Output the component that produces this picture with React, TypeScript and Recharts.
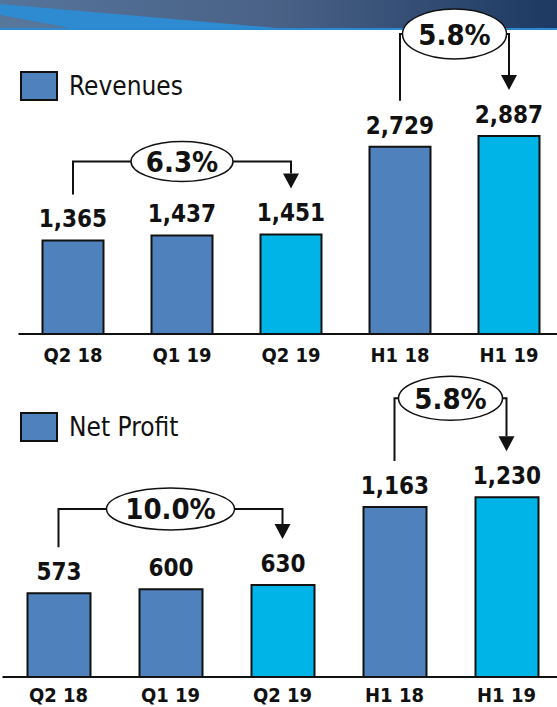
import React from 'react';
import { BarChart, Bar, XAxis, YAxis, Cell, LabelList, ReferenceLine } from 'recharts';

const categories = ['Q2 18', 'Q1 19', 'Q2 19', 'H1 18', 'H1 19'];
const revenues = [1365, 1437, 1451, 2729, 2887];
const netProfit = [573, 600, 630, 1163, 1230];
const highlighted = [false, false, true, false, true];

// growth brackets: from category index -> to category index, label in the ellipse
const revenueGrowth = [
  { from: 0, to: 2, label: '6.3%' },
  { from: 3, to: 4, label: '5.8%' },
];
const profitGrowth = [
  { from: 0, to: 2, label: '10.0%' },
  { from: 3, to: 4, label: '5.8%' },
];

// bracket styling (pixels): rise above arrow tip, ellipse radii
const revenueBracketStyle = [
  { rise: 27, rx: 51, ry: 20 },
  { rise: 56, rx: 52, ry: 25 },
];
const profitBracketStyle = [
  { rise: 30, rx: 64, ry: 21 },
  { rise: 53, rx: 52, ry: 22 },
];

const DARK = '#4f81bd';
const CYAN = '#00b4e8';
const INK = '#111';
const FONT = "'DejaVu Sans Condensed', 'DejaVu Sans', sans-serif";

const revenueData = categories.map((name, i) => ({ name, value: revenues[i], hi: highlighted[i] }));
const profitData = categories.map((name, i) => ({ name, value: netProfit[i], hi: highlighted[i] }));

const fmt = (v: any) => Number(v).toLocaleString('en-US');

const bracketShape = (label: string, st: { rise: number; rx: number; ry: number }) => (props: any) => {
  const { x1, y1, x2, y2 } = props;
  if (x1 == null || y1 == null) return <g />;
  const gap = 46;
  const legBottom = y1 - gap;
  const tip = y2 - gap;
  const top = tip - st.rise;
  const cx = (x1 + x2) / 2;
  const head = 15;
  return (
    <g>
      <polyline points={`${x1},${legBottom} ${x1},${top} ${cx - st.rx},${top}`} fill="none" stroke={INK} strokeWidth={2} />
      <polyline points={`${cx + st.rx},${top} ${x2},${top} ${x2},${tip - head}`} fill="none" stroke={INK} strokeWidth={2} />
      <polygon points={`${x2 - 8},${tip - head} ${x2 + 8},${tip - head} ${x2},${tip}`} fill={INK} />
      <ellipse cx={cx} cy={top} rx={st.rx} ry={st.ry} fill="#fff" stroke={INK} strokeWidth={1.5} />
      <text x={cx} y={top + 10.5} textAnchor="middle" fontFamily={FONT} fontWeight="bold" fontSize={29} fill={INK}>
        {label}
      </text>
    </g>
  );
};

const makeTick = (dy: number) => (props: any) => {
  const { x, y, payload } = props;
  return (
    <text x={x} y={y + dy} textAnchor="middle" fontFamily={FONT} fontWeight="bold" fontSize={20} fill={INK}>
      {payload.value}
    </text>
  );
};

function Panel({ data, growth, styles, width, height, margin, axisHeight, tickDy, domainMax, barSize }: any) {
  return (
    <BarChart width={width} height={height} data={data} margin={margin}>
      <XAxis
        dataKey="name"
        interval={0}
        tickLine={false}
        tickSize={0}
        tickMargin={0}
        height={axisHeight}
        axisLine={{ stroke: INK, strokeWidth: 2 }}
        tick={makeTick(tickDy)}
      />
      <YAxis hide domain={[0, domainMax]} />
      <Bar dataKey="value" barSize={barSize} stroke={INK} strokeWidth={2} isAnimationActive={false}>
        {data.map((d: any, i: number) => (
          <Cell key={i} fill={d.hi ? CYAN : DARK} />
        ))}
        <LabelList
          dataKey="value"
          position="top"
          offset={13}
          formatter={fmt}
          style={{ fontFamily: FONT, fontWeight: 'bold', fontSize: 24, fill: INK }}
        />
      </Bar>
      {growth.map((g: any, i: number) => (
        <ReferenceLine
          key={i}
          segment={[
            { x: data[g.from].name, y: data[g.from].value },
            { x: data[g.to].name, y: data[g.to].value },
          ]}
          ifOverflow="visible"
          shape={bracketShape(g.label, styles[i])}
        />
      ))}
    </BarChart>
  );
}

function LegendItem({ label, top }: { label: string; top: number }) {
  return (
    <div style={{ position: 'absolute', left: 20, top, height: 30, display: 'flex', alignItems: 'center' }}>
      <div style={{ width: 38, height: 30, boxSizing: 'border-box', border: `2px solid ${INK}`, background: DARK }} />
      <span style={{ marginLeft: 11, fontFamily: FONT, fontSize: 26, lineHeight: 1, color: INK }}>{label}</span>
    </div>
  );
}

export default function App() {
  return (
    <div style={{ position: 'absolute', left: 0, top: 0, width: 557, height: 707, overflow: 'hidden', background: '#fff' }}>
      <svg width={557} height={31} style={{ position: 'absolute', left: 0, top: 0 }}>
        <defs>
          <linearGradient id="hdr" x1="0" y1="0" x2="1" y2="0">
            <stop offset="0" stopColor="#55749a" />
            <stop offset="0.5" stopColor="#4a6186" />
            <stop offset="1" stopColor="#1d3961" />
          </linearGradient>
        </defs>
        <rect x={0} y={0} width={557} height={30} fill="url(#hdr)" />
        <polygon points="0,4 300,30 80,30 0,15" fill="#2e8bd2" />
        <polygon points="0,15 80,30 0,30" fill="#56769a" />
        <rect x={0} y={28} width={557} height={2} fill="#2a89cf" />
      </svg>
      <LegendItem label="Revenues" top={71} />
      <LegendItem label="Net Profit" top={412} />
      <div style={{ position: 'absolute', left: 0, top: 0 }}>
        <Panel
          data={revenueData}
          growth={revenueGrowth}
          styles={revenueBracketStyle}
          width={570}
          height={372}
          axisHeight={38}
          tickDy={28}
          margin={{ top: 0, right: 6.5, left: 18.5, bottom: 0 }}
          domainMax={4870}
          barSize={61}
        />
      </div>
      <div style={{ position: 'absolute', left: 0, top: 360 }}>
        <Panel
          data={profitData}
          growth={profitGrowth}
          styles={profitBracketStyle}
          width={570}
          height={355}
          axisHeight={38}
          tickDy={25}
          margin={{ top: 0, right: 7.5, left: 2.5, bottom: 0 }}
          domainMax={2170}
          barSize={63}
        />
      </div>
    </div>
  );
}
